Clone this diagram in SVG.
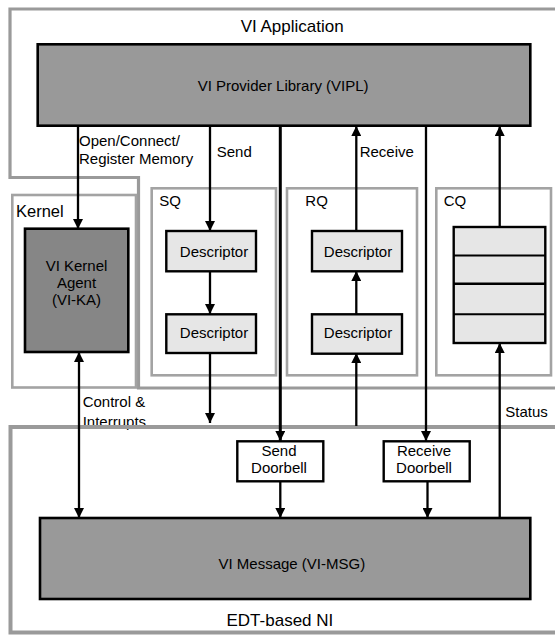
<svg xmlns="http://www.w3.org/2000/svg" width="555" height="635" viewBox="0 0 555 635">
<style>
text{font-family:"Liberation Sans",Arial,sans-serif;font-size:15px;fill:#000}
.big{font-size:17px}
.mid{text-anchor:middle}
.outline{fill:none;stroke:#9a9a9a;stroke-width:3.2}
.cont{fill:none;stroke:#a3a3a3;stroke-width:2.6}
.dark{fill:#999999;stroke:#000;stroke-width:2.6}
.agent{fill:#868686;stroke:#000;stroke-width:2.6}
.desc{fill:#e6e6e6;stroke:#000;stroke-width:2.4}
.bell{fill:#fff;stroke:#000;stroke-width:2.4}
.c line{stroke:#000;stroke-width:2.3;fill:none}
</style>
<defs>
<marker id="ah" viewBox="0 0 10 10" refX="10" refY="5" markerWidth="11" markerHeight="10" markerUnits="userSpaceOnUse" orient="auto-start-reverse">
<path d="M0,0 L10,5 L0,10 z" fill="#000"/>
</marker>
</defs>

<g id="label-control">
<text x="82.7" y="407">Control &amp;</text>
<text x="82.7" y="427">Interrupts</text>
</g>

<g id="vi-application">
<path class="outline" d="M555,9 H10 V177.5 H138.5 V388 H555"/>
<text class="big" x="240.7" y="31.7">VI Application</text>
</g>

<g id="kernel">
<rect class="cont" x="12.3" y="195" width="123.7" height="192.5"/>
<text x="16" y="217" style="font-size:16.5px">Kernel</text>
</g>

<g id="sq">
<rect class="cont" x="151.7" y="188.3" width="124.3" height="187"/>
<text x="159.3" y="205.5">SQ</text>
</g>
<g id="rq">
<rect class="cont" x="287" y="188.3" width="130" height="187"/>
<text x="305.3" y="205.5">RQ</text>
</g>
<g id="cq">
<rect class="cont" x="436.3" y="188.3" width="114.7" height="187"/>
<text x="443.7" y="205.5">CQ</text>
</g>

<g id="edt-ni">
<path class="outline" d="M555,427 H10.5 V632.5 H555" style="stroke-width:4"/>
<text class="big" x="226.5" y="626">EDT-based NI</text>
</g>

<g id="connectors" class="c">
<line x1="78" y1="126" x2="78" y2="229" marker-end="url(#ah)"/>
<line x1="210" y1="126" x2="210" y2="231" marker-end="url(#ah)"/>
<line x1="210" y1="271" x2="210" y2="314" marker-end="url(#ah)"/>
<line x1="210" y1="352" x2="210" y2="423" marker-end="url(#ah)"/>
<line x1="280.3" y1="126" x2="280.3" y2="441" marker-end="url(#ah)" style="stroke-width:3"/>
<line x1="280.3" y1="481" x2="280.3" y2="518" marker-end="url(#ah)"/>
<line x1="356.3" y1="231" x2="356.3" y2="126" marker-end="url(#ah)"/>
<line x1="356.3" y1="314" x2="356.3" y2="271" marker-end="url(#ah)"/>
<line x1="356.3" y1="426" x2="356.3" y2="353" marker-end="url(#ah)"/>
<line x1="426" y1="126" x2="426" y2="441" marker-end="url(#ah)"/>
<line x1="427.5" y1="481" x2="427.5" y2="518" marker-end="url(#ah)"/>
<line x1="499.7" y1="227" x2="499.7" y2="126" marker-end="url(#ah)"/>
<line x1="499.7" y1="518" x2="499.7" y2="343" marker-end="url(#ah)"/>
<line x1="79" y1="352" x2="79" y2="518" marker-start="url(#ah)" marker-end="url(#ah)"/>
</g>

<g id="connector-labels">
<text x="79" y="145.7">Open/Connect/</text>
<text x="79" y="163.5">Register Memory</text>
<text x="216.7" y="156.7">Send</text>
<text x="359.7" y="156.7">Receive</text>
<text x="505.3" y="417">Status</text>
</g>

<g id="vipl">
<rect class="dark" x="37.7" y="44.3" width="492.6" height="81.4"/>
<text x="197.7" y="90.7">VI Provider Library (VIPL)</text>
</g>

<g id="vi-ka">
<rect class="agent" x="25" y="228.7" width="103.3" height="123.3"/>
<text class="mid" x="76.5" y="271">VI Kernel</text>
<text class="mid" x="76.5" y="288">Agent</text>
<text class="mid" x="76.5" y="305">(VI-KA)</text>
</g>

<g id="sq-desc-1">
<rect class="desc" x="166.3" y="231" width="89.7" height="40.3"/>
<text class="mid" x="214" y="257">Descriptor</text>
</g>
<g id="sq-desc-2">
<rect class="desc" x="166.3" y="314.3" width="89.7" height="38.7"/>
<text class="mid" x="214" y="337.7">Descriptor</text>
</g>
<g id="rq-desc-1">
<rect class="desc" x="312" y="231" width="90" height="40.3"/>
<text class="mid" x="358" y="257">Descriptor</text>
</g>
<g id="rq-desc-2">
<rect class="desc" x="312" y="314.3" width="90" height="39.4"/>
<text class="mid" x="358" y="337.7">Descriptor</text>
</g>

<g id="cq-stack">
<rect class="desc" x="453.7" y="227" width="91.6" height="116"/>
<line x1="453.7" y1="255.5" x2="545.3" y2="255.5" stroke="#000" stroke-width="2"/>
<line x1="453.7" y1="283.7" x2="545.3" y2="283.7" stroke="#000" stroke-width="2.5"/>
<line x1="453.7" y1="314.3" x2="545.3" y2="314.3" stroke="#000" stroke-width="2"/>
</g>

<g id="send-doorbell">
<rect class="bell" x="237.3" y="441.3" width="86" height="40"/>
<text class="mid" x="279" y="456.3">Send</text>
<text class="mid" x="279" y="473">Doorbell</text>
</g>
<g id="receive-doorbell">
<rect class="bell" x="383.7" y="441.3" width="86" height="40"/>
<text class="mid" x="424" y="456.3">Receive</text>
<text class="mid" x="424" y="473">Doorbell</text>
</g>

<g id="vi-msg">
<rect class="dark" x="40" y="518" width="490.3" height="81"/>
<text x="218.5" y="568.7">VI Message (VI-MSG)</text>
</g>
</svg>
